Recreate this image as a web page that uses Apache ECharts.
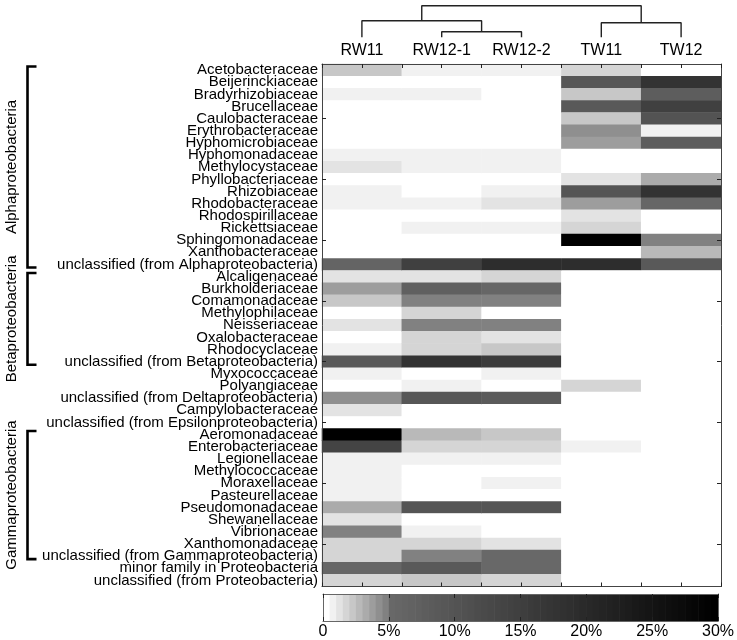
<!DOCTYPE html>
<html><head><meta charset="utf-8">
<script src="https://cdn.jsdelivr.net/npm/echarts@6/dist/echarts.min.js"></script>
<style>html,body{margin:0;padding:0;background:#fff}#chart{width:737px;height:640px}</style>
</head><body><div id="chart"></div>
<script>
// ---- data (relative abundance, %) ----
const samples = ['RW11', 'RW12-1', 'RW12-2', 'TW11', 'TW12'];
const families = [
  'Acetobacteraceae', 'Beijerinckiaceae', 'Bradyrhizobiaceae', 'Brucellaceae', 'Caulobacteraceae',
  'Erythrobacteraceae', 'Hyphomicrobiaceae', 'Hyphomonadaceae', 'Methylocystaceae', 'Phyllobacteriaceae',
  'Rhizobiaceae', 'Rhodobacteraceae', 'Rhodospirillaceae', 'Rickettsiaceae', 'Sphingomonadaceae',
  'Xanthobacteraceae', 'unclassified (from Alphaproteobacteria)', 'Alcaligenaceae', 'Burkholderiaceae',
  'Comamonadaceae', 'Methylophilaceae', 'Neisseriaceae', 'Oxalobacteraceae', 'Rhodocyclaceae',
  'unclassified (from Betaproteobacteria)', 'Myxococcaceae', 'Polyangiaceae',
  'unclassified (from Deltaproteobacteria)', 'Campylobacteraceae',
  'unclassified (from Epsilonproteobacteria)', 'Aeromonadaceae', 'Enterobacteriaceae', 'Legionellaceae',
  'Methylococcaceae', 'Moraxellaceae', 'Pasteurellaceae', 'Pseudomonadaceae', 'Shewanellaceae',
  'Vibrionaceae', 'Xanthomonadaceae', 'unclassified (from Gammaproteobacteria)',
  'minor family in Proteobacteria', 'unclassified (from Proteobacteria)'
];
const valRW11 = [2.25,0,0.75,0,0, 0,0,0.75,1.25,0, 0.75,0.75,0,0,0, 0,6.25,1.25,3.75,2.25, 0,1.25,0,0.75,8.75, 0.75,0,4.25,1.25,0, 29.75,13.75,0.75,0.75,0.75, 0.75,3.25,1.25,4.75,1.75, 1.75,5.75,1.75];
const valRW12_1 = [0.75,0,0.75,0,0, 0,0,0.75,0.75,0, 0,0.75,0,0.75,0, 0,14.75,1.25,7.25,4.75, 1.75,4.75,1.75,1.75,17.75, 0,0.75,9.0,0,0, 2.75,1.75,0.75,0,0, 0,9.75,0,0.75,1.75, 4.75,8.75,2.25];
const valRW12_2 = [0.75,0,0,0,0, 0,0,0.75,0.75,0, 0.75,1.25,0,0.75,0, 0,19.25,1.75,5.75,4.75, 0,4.75,1.25,2.25,15.75, 0.75,0,8.25,0,0, 2.25,1.75,0.75,0,0.75, 0,9.75,0,0,1.25, 5.25,5.25,1.75];
const valTW11 = [1.75,9.0,2.25,8.75,2.25, 4.25,3.75,0,0,1.25, 9.75,3.75,1.25,1.75,29.75, 0,19.25,0,0,0, 0,0,0,0,0, 0,1.75,0,0,0, 0,0.75,0,0,0, 0,0,0,0,0, 0,0,0];
const valTW12 = [0,17.75,7.75,14.75,10.25, 0.75,7.75,0,0,3.25, 17.75,5.75,0,0,4.75, 2.75,8.75,0,0,0, 0,0,0,0,0, 0,0,0,0,0, 0,0,0,0,0, 0,0,0,0,0, 0,0,0];
const sampleValues = [valRW11, valRW12_1, valRW12_2, valTW11, valTW12];

// class groups (row index ranges)
const groupNames = ['Alphaproteobacteria', 'Betaproteobacteria', 'Gammaproteobacteria'];
const groupFirstRow = [0, 17, 30];
const groupLastRow = [16, 24, 40];

// dendrogram merges (c1..c4 = merge number)
const mergeA = ['RW12-1', 'TW11', 'RW11', 'c3'];
const mergeB = ['RW12-2', 'TW12', 'c1', 'c2'];
const mergeHeight = [0.177, 0.462, 0.525, 1.0];

// colour bar
const colorbarMax = 30;
const colorbarStep = 0.5;

// ---- colour map ----
function grayLevel(p) {
  const k = Math.min(59, Math.max(0, Math.floor(p / colorbarStep)));
  const g = k < 10 ? 255 - 14 * k : Math.round(104 * (59 - k) / 49);
  return 'rgb(' + g + ',' + g + ',' + g + ')';
}
const pieces = [];
for (let k = 0; k < colorbarMax / colorbarStep; k++) {
  const lo = k * colorbarStep, hi = lo + colorbarStep;
  const pc = { gte: lo, color: grayLevel(lo + colorbarStep / 2) };
  if (k < colorbarMax / colorbarStep - 1) pc.lt = hi; else pc.lte = hi + 100;
  pieces.push(pc);
}
const colorbarBins = [];
for (let k = 0; k < colorbarMax / colorbarStep; k++) colorbarBins.push([k * colorbarStep, 0]);

// heatmap data
const heatData = [];
sampleValues.forEach((arr, c) => arr.forEach((v, r) => heatData.push([c, r, v])));

// dendrogram lines
const nodePos = {};
samples.forEach((s, i) => nodePos[s] = [i, 0]);
const dendroSeries = [];
mergeA.forEach((a, i) => {
  const pa = nodePos[a], pb = nodePos[mergeB[i]], h = mergeHeight[i];
  nodePos['c' + (i + 1)] = [(pa[0] + pb[0]) / 2, h];
  dendroSeries.push({
    type: 'line', xAxisIndex: 6, yAxisIndex: 5, symbol: 'none', silent: true, animation: false,
    lineStyle: { color: '#222', width: 1.4 },
    data: [[pa[0], pa[1]], [pa[0], h], [pb[0], h], [pb[0], pb[1]]]
  });
});

const FONT = '"Liberation Sans", Arial, Helvetica, sans-serif';
const AX = '#444';
const tickEvery5 = (idx) => (idx + 1) % 5 === 0;

const chart = echarts.init(document.getElementById('chart'), null, { renderer: 'canvas' });
const option = {
  animation: false,
  backgroundColor: '#fff',
  textStyle: { fontFamily: FONT },
  grid: [
    { left: 322, top: 64, width: 399, height: 522.5 },        // heatmap
    { left: 323, top: 594, width: 396, height: 27 },           // colour bar
    { left: 20, top: 64, width: 20, height: 522.5 },           // group brackets
    { left: 322, top: 5.7, width: 399, height: 31.6 }          // dendrogram
  ],
  xAxis: [
    { type: 'category', gridIndex: 0, position: 'top', data: samples, z: 10,
      axisLine: { show: true, onZero: false, lineStyle: { color: AX, width: 1 } },
      axisTick: { show: false },
      axisLabel: { color: '#000', fontSize: 16, margin: 5, fontFamily: FONT } },
    { type: 'value', gridIndex: 0, position: 'bottom', min: 0, max: 10, interval: 1, z: 10,
      axisLine: { show: true, onZero: false, lineStyle: { color: AX, width: 1 } },
      axisTick: { show: true, inside: true, length: 4, lineStyle: { color: '#222' } },
      axisLabel: { show: false }, splitLine: { show: false } },
    { type: 'value', gridIndex: 0, position: 'top', min: 0, max: 10, interval: 1, z: 10,
      axisLine: { show: false, onZero: false },
      axisTick: { show: true, inside: true, length: 4, lineStyle: { color: '#222' } },
      axisLabel: { show: false }, splitLine: { show: false } },
    { type: 'value', gridIndex: 1, position: 'bottom', min: 0, max: colorbarMax, interval: 5, z: 10,
      axisLine: { show: true, onZero: false, lineStyle: { color: '#666', width: 1 } },
      axisTick: { show: true, inside: true, length: 4, lineStyle: { color: '#222' } },
      axisLabel: { color: '#000', fontSize: 16, margin: 3, fontFamily: FONT,
        formatter: v => v === 0 ? '0' : v + '%' },
      splitLine: { show: false } },
    { type: 'value', gridIndex: 1, position: 'top', min: 0, max: colorbarMax, interval: 5, z: 10,
      axisLine: { show: true, onZero: false, lineStyle: { color: '#666', width: 1 } },
      axisTick: { show: true, inside: true, length: 4, lineStyle: { color: '#222' } },
      axisLabel: { show: false }, splitLine: { show: false } },
    { type: 'value', gridIndex: 2, min: 0, max: 20, show: false },
    { type: 'value', gridIndex: 3, min: -0.5, max: 4.5, show: false }
  ],
  yAxis: [
    { type: 'category', gridIndex: 0, position: 'left', inverse: true, data: families, z: 10,
      axisLine: { show: true, onZero: false, lineStyle: { color: AX, width: 1 } },
      axisTick: { show: true, inside: true, length: 4, alignWithLabel: true, interval: tickEvery5,
        lineStyle: { color: '#222' } },
      axisLabel: { interval: 0, color: '#000', fontSize: 15, margin: 4, fontFamily: FONT } },
    { type: 'category', gridIndex: 0, position: 'right', inverse: true, data: families, z: 10,
      axisLine: { show: true, onZero: false, lineStyle: { color: AX, width: 1 } },
      axisTick: { show: true, inside: true, length: 4, alignWithLabel: true, interval: tickEvery5,
        lineStyle: { color: '#222' } },
      axisLabel: { show: false } },
    { type: 'value', gridIndex: 1, position: 'left', min: 0, max: 1, z: 10,
      axisLine: { show: true, onZero: false, lineStyle: { color: '#666', width: 1 } },
      axisTick: { show: false }, axisLabel: { show: false }, splitLine: { show: false } },
    { type: 'value', gridIndex: 1, position: 'right', min: 0, max: 1, z: 10,
      axisLine: { show: true, onZero: false, lineStyle: { color: '#666', width: 1 } },
      axisTick: { show: false }, axisLabel: { show: false }, splitLine: { show: false } },
    { type: 'category', gridIndex: 2, inverse: true, data: families, show: false },
    { type: 'value', gridIndex: 3, min: 0, max: 1, show: false }
  ],
  visualMap: {
    type: 'piecewise', show: false, seriesIndex: 0, dimension: 2, pieces: pieces
  },
  series: [
    { type: 'heatmap', xAxisIndex: 0, yAxisIndex: 0, data: heatData, silent: true,
      emphasis: { disabled: true }, itemStyle: { borderWidth: 0 } },
    { type: 'custom', xAxisIndex: 3, yAxisIndex: 2, data: colorbarBins, silent: true, clip: true,
      renderItem: (params, api) => {
        const v = api.value(0);
        const p0 = api.coord([v, 0]);
        const p1 = api.coord([v + colorbarStep, 1]);
        return { type: 'rect',
          shape: { x: p0[0], y: p1[1], width: p1[0] - p0[0] + 0.6, height: p0[1] - p1[1] },
          style: { fill: grayLevel(v + colorbarStep / 2) } };
      } },
    { type: 'custom', xAxisIndex: 5, yAxisIndex: 4, silent: true, clip: false,
      data: groupNames.map((n, i) => [0, groupFirstRow[i], groupLastRow[i]]),
      encode: { x: 0, y: 1 },
      renderItem: (params, api) => {
        const band = api.size([0, 1])[1];
        const yTop = api.coord([0, api.value(1)])[1] - band / 2 + 0.2 * band;
        const yBot = api.coord([0, api.value(2)])[1] - band / 2 + 0.75 * band;
        const xv = api.coord([7.5, 0])[0];
        const xe = api.coord([16.5, 0])[0];
        const xt = api.coord([-8, 0])[0];
        return { type: 'group', children: [
          { type: 'polyline',
            shape: { points: [[xe, yTop], [xv, yTop], [xv, yBot], [xe, yBot]] },
            style: { stroke: '#000', lineWidth: 2.6, fill: null } },
          { type: 'text', x: xt, y: (yTop + yBot) / 2, rotation: Math.PI / 2,
            style: { text: groupNames[params.dataIndex], fill: '#000', font: '15px ' + FONT,
              align: 'center', verticalAlign: 'middle' } }
        ] };
      } }
  ].concat(dendroSeries)
};
chart.setOption(option);
</script>
</body></html>
